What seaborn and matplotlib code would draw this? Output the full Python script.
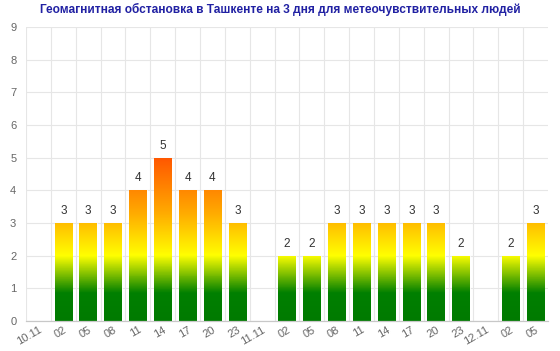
import numpy as np
import pandas as pd
import seaborn as sns
import matplotlib.pyplot as plt
from matplotlib.colors import LinearSegmentedColormap

# Data
labels = ['10.11', '02', '05', '08', '11', '14', '17', '20', '23',
          '11.11', '02', '05', '08', '11', '14', '17', '20', '23',
          '12.11', '02', '05']
kp = [np.nan, 3, 3, 3, 4, 5, 4, 4, 3,
      np.nan, 2, 2, 3, 3, 3, 3, 3, 2,
      np.nan, 2, 3]
title = 'Геомагнитная обстановка в Ташкенте на 3 дня для метеочувствительных людей'

df = pd.DataFrame({'slot': range(len(labels)), 'kp': kp})

sns.set_style('white')
plt.rcParams['font.family'] = ['Liberation Sans', 'DejaVu Sans']

fig = plt.figure(figsize=(5.6, 3.51), dpi=100)
ax = fig.add_axes([26 / 560, 1 - 321 / 351, 522 / 560, 294 / 351])

sns.barplot(data=df, x='slot', y='kp', order=list(range(len(labels))),
            width=0.7, color='white', ax=ax, zorder=2)

# vertical gradient in data units: green -> yellow -> orange-red
vmax = 5.0
cmap = LinearSegmentedColormap.from_list('kp', [
    (0.0, (0.0, 0.48, 0.0)),
    (0.85 / vmax, (0.0, 0.5, 0.0)),
    (2.0 / vmax, (1.0, 1.0, 0.0)),
    (3.3 / vmax, (1.0, 0.67, 0.0)),
    (1.0, (1.0, 0.34, 0.0)),
])
for p in ax.patches:
    h = p.get_height()
    if not np.isfinite(h) or h <= 0:
        continue
    x0 = p.get_x()
    w = p.get_width()
    grad = np.linspace(0, h, 200).reshape(-1, 1)
    im = ax.imshow(grad, cmap=cmap, vmin=0, vmax=vmax, origin='lower',
                   extent=(x0, x0 + w, 0, h), aspect='auto', zorder=2,
                   interpolation='bilinear')
    im.set_clip_path(p)
    p.set_facecolor('none')
    p.set_edgecolor('white')
    p.set_linewidth(0.6)
    ax.text(x0 + w / 2, h + 0.18, f'{int(h)}', ha='center', va='bottom',
            fontsize=8.5, color='#333333', zorder=3)

ax.set_xlim(-0.5, len(labels) - 0.5)
ax.set_ylim(0, 9)
ax.set_yticks(range(10))
ax.set_xticks(range(len(labels)))
ax.set_xticklabels(labels, rotation=30, ha='right', rotation_mode='anchor',
                   fontsize=8, color='#666666')
ax.set_xticks(np.arange(len(labels)) - 0.5, minor=True)
ax.tick_params(axis='x', which='major', length=0, pad=2.5)
ax.tick_params(axis='x', which='minor', length=4, color='#cccccc', width=0.8)
ax.tick_params(axis='y', length=0, labelsize=8, labelcolor='#666666', pad=7)
ax.grid(axis='y', color='#e6e6e6', linewidth=0.8, zorder=0)
ax.grid(axis='x', which='minor', color='#e6e6e6', linewidth=0.8, zorder=0)
ax.set_axisbelow(True)
for s in ['top', 'right', 'left']:
    ax.spines[s].set_visible(False)
ax.spines['bottom'].set_color('#c8c8c8')
ax.spines['bottom'].set_linewidth(0.9)
ax.set_xlabel('')
ax.set_ylabel('')

fig.text(0.5, 1 - 9 / 351, title, ha='center', va='center',
         fontsize=8.6, fontweight='bold', color='#2121a3')

fig.savefig('out.png', dpi=100)
